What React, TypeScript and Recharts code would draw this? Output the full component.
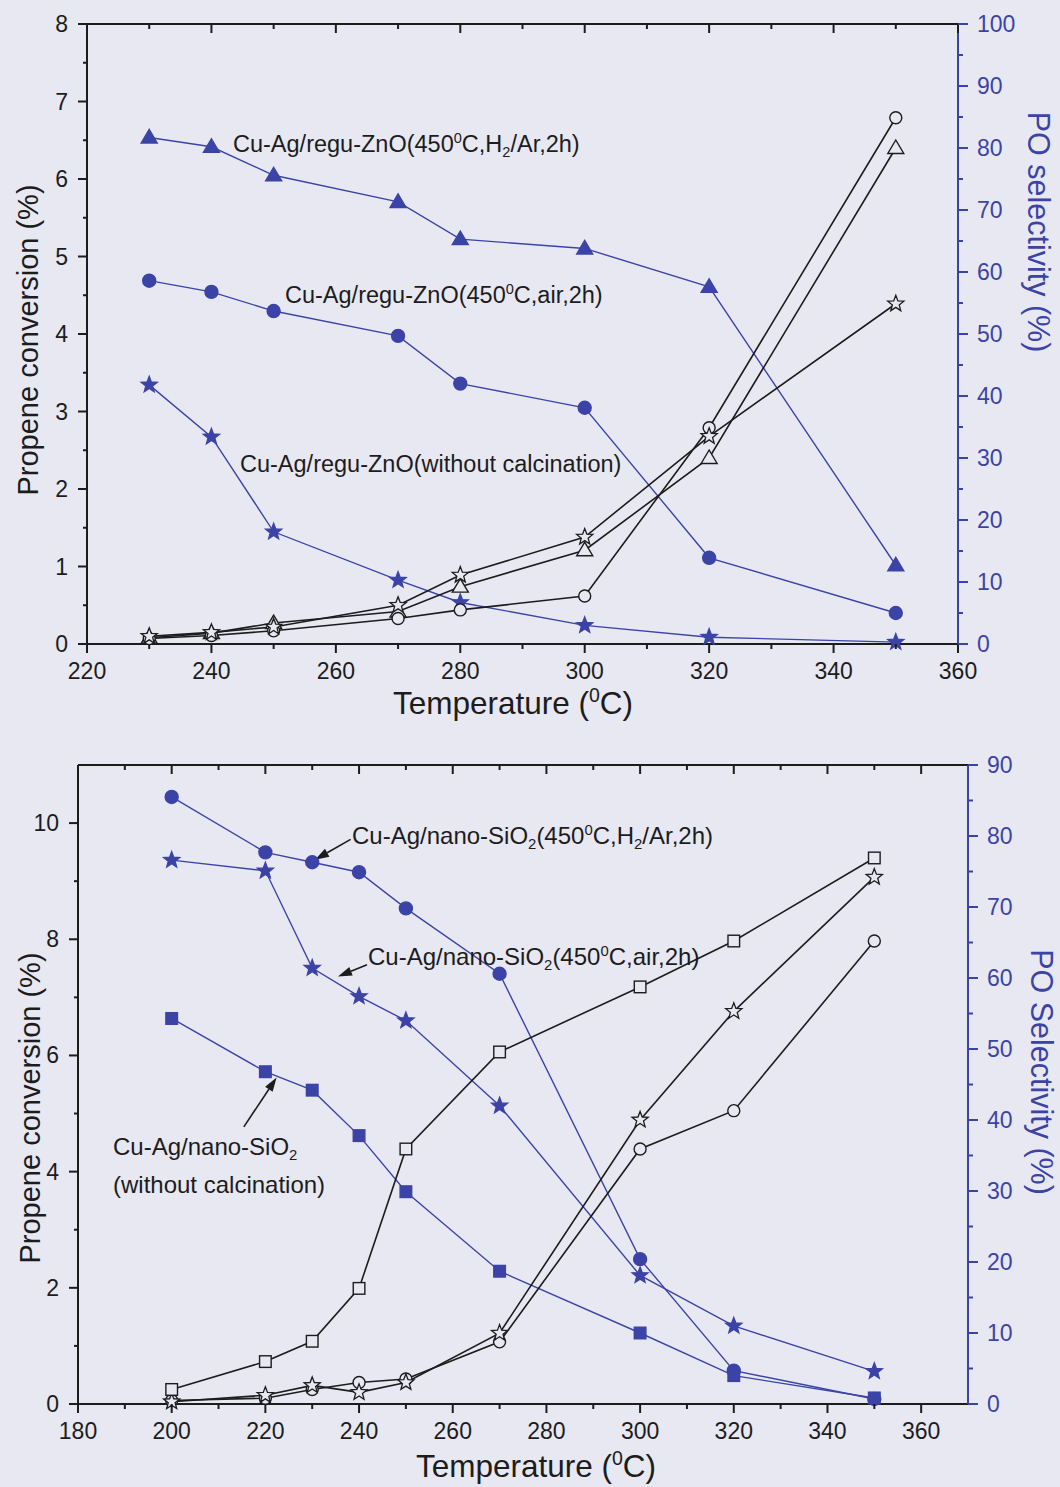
import React from "react";
import { ComposedChart, Line, XAxis, YAxis, ReferenceLine } from "recharts";

const BLUE = "#3b44a6";
const INK = "#1c1c1c";
const BG = "#e8e8f3";
const FONT = '"Liberation Sans", Arial, Helvetica, sans-serif';

// upper panel: Cu-Ag/regu-ZnO
const znoTemps = [230, 240, 250, 270, 280, 300, 320, 350];
const znoSelH2 = [81.7, 80.2, 75.6, 71.3, 65.3, 63.8, 57.6, 12.7];
const znoSelAir = [58.6, 56.8, 53.7, 49.7, 42.0, 38.1, 13.9, 5.0];
const znoSelRaw = [41.8, 33.4, 18.1, 10.3, 6.7, 3.0, 1.1, 0.3];
const znoConvH2 = [0.08, 0.14, 0.27, 0.42, 0.74, 1.21, 2.4, 6.4];
const znoConvAir = [0.07, 0.11, 0.17, 0.33, 0.44, 0.62, 2.79, 6.79];
const znoConvRaw = [0.1, 0.15, 0.22, 0.5, 0.89, 1.38, 2.68, 4.39];

// lower panel: Cu-Ag/nano-SiO2
const sioTemps = [200, 220, 230, 240, 250, 270, 300, 320, 350];
const sioSelH2 = [85.5, 77.7, 76.3, 74.9, 69.8, 60.6, 20.4, 4.7, 0.7];
const sioSelAir = [76.6, 75.1, 61.4, 57.4, 54.0, 42.0, 18.1, 11.0, 4.6];
const sioSelRaw = [54.3, 46.8, 44.2, 37.8, 29.9, 18.7, 10.0, 4.0, 0.85];
const sioConvH2 = [0.06, 0.1, 0.25, 0.37, 0.43, 1.07, 4.39, 5.05, 7.97];
const sioConvAir = [0.04, 0.15, 0.32, 0.2, 0.37, 1.22, 4.89, 6.76, 9.07];
const sioConvRaw = [0.25, 0.73, 1.08, 1.99, 4.39, 6.06, 7.18, 7.97, 9.4];

// tick lists (minor + major)
const znoXTicks = [220, 230, 240, 250, 260, 270, 280, 290, 300, 310, 320, 330, 340, 350, 360];
const znoLeftTicks = [0, 0.5, 1, 1.5, 2, 2.5, 3, 3.5, 4, 4.5, 5, 5.5, 6, 6.5, 7, 7.5, 8];
const znoRightTicks = [0, 5, 10, 15, 20, 25, 30, 35, 40, 45, 50, 55, 60, 65, 70, 75, 80, 85, 90, 95, 100];
const sioXTicks = [180, 190, 200, 210, 220, 230, 240, 250, 260, 270, 280, 290, 300, 310, 320, 330, 340, 350, 360];
const sioLeftTicks = [0, 1, 2, 3, 4, 5, 6, 7, 8, 9, 10];
const sioRightTicks = [0, 5, 10, 15, 20, 25, 30, 35, 40, 45, 50, 55, 60, 65, 70, 75, 80, 85, 90];

// arrow segments for the lower panel labels: [tail, tip] in data units
const arrowH2 = [{ x: 238.2, y: 9.72 }, { x: 230.6, y: 9.37 }];
const arrowAir = [{ x: 241.7, y: 7.56 }, { x: 235.5, y: 7.36 }];
const arrowRaw = [{ x: 215.4, y: 4.77 }, { x: 222.4, y: 5.62 }];

const znoRows = znoTemps.map((t, i) => ({
  t,
  selH2: znoSelH2[i],
  selAir: znoSelAir[i],
  selRaw: znoSelRaw[i],
  convH2: znoConvH2[i],
  convAir: znoConvAir[i],
  convRaw: znoConvRaw[i],
}));

const sioRows = sioTemps.map((t, i) => ({
  t,
  selH2: sioSelH2[i],
  selAir: sioSelAir[i],
  selRaw: sioSelRaw[i],
  convH2: sioConvH2[i],
  convAir: sioConvAir[i],
  convRaw: sioConvRaw[i],
}));

type TickProps = { x?: number; y?: number; payload?: { value: number }; step?: number };

const TICK_FONT = 23;

const BottomTick = ({ x = 0, y = 0, payload, step = 20 }: TickProps) => {
  const v = payload?.value ?? 0;
  const major = v % step === 0;
  return (
    <g>
      <line x1={x} y1={y} x2={x} y2={y + (major ? 9 : 5)} stroke={INK} strokeWidth={2} />
      {major && (
        <text x={x} y={y + 27} textAnchor="middle" dominantBaseline="central" fontSize={TICK_FONT} fill={INK} fontFamily={FONT}>
          {v}
        </text>
      )}
    </g>
  );
};

const TopTick = ({ x = 0, y = 0, payload, step = 20 }: TickProps) => {
  const v = payload?.value ?? 0;
  const major = v % step === 0;
  return <line x1={x} y1={y} x2={x} y2={y + (major ? 9 : 5)} stroke={INK} strokeWidth={2} />;
};

const LeftTick = ({ x = 0, y = 0, payload, step = 1 }: TickProps) => {
  const v = payload?.value ?? 0;
  const major = v % step === 0;
  return (
    <g>
      <line x1={x} y1={y} x2={x - (major ? 9 : 4)} y2={y} stroke={INK} strokeWidth={2} />
      {major && (
        <text x={x - 19} y={y} textAnchor="end" dominantBaseline="central" fontSize={TICK_FONT} fill={INK} fontFamily={FONT}>
          {v}
        </text>
      )}
    </g>
  );
};

const RightTick = ({ x = 0, y = 0, payload, step = 10 }: TickProps) => {
  const v = payload?.value ?? 0;
  const major = v % step === 0;
  return (
    <g>
      <line x1={x} y1={y} x2={x + (major ? 10 : 5)} y2={y} stroke={BLUE} strokeWidth={2} />
      {major && (
        <text x={x + 19} y={y} textAnchor="start" dominantBaseline="central" fontSize={TICK_FONT} fill={BLUE} fontFamily={FONT}>
          {v}
        </text>
      )}
    </g>
  );
};

function starPoints(cx: number, cy: number, R: number, r: number) {
  const pts: string[] = [];
  for (let i = 0; i < 10; i++) {
    const a = -Math.PI / 2 + (i * Math.PI) / 5;
    const rad = i % 2 === 0 ? R : r;
    pts.push(`${cx + rad * Math.cos(a)},${cy + rad * Math.sin(a)}`);
  }
  return pts.join(" ");
}

type Shape = "circle" | "triangle" | "star" | "square";

function marker(shape: Shape, filled: boolean) {
  const fill = filled ? BLUE : BG;
  const stroke = filled ? BLUE : INK;
  return (p: any) => {
    const { cx, cy, index } = p;
    if (cx == null || cy == null) return <g key={index} />;
    if (shape === "circle")
      return <circle key={index} cx={cx} cy={cy} r={filled ? 6.5 : 6} fill={fill} stroke={stroke} strokeWidth={1.4} />;
    if (shape === "square")
      return <rect key={index} x={cx - 5.8} y={cy - 5.8} width={11.6} height={11.6} fill={fill} stroke={stroke} strokeWidth={1.4} />;
    if (shape === "triangle")
      return (
        <polygon
          key={index}
          points={`${cx},${cy - 8} ${cx - 8},${cy + 5.5} ${cx + 8},${cy + 5.5}`}
          fill={fill}
          stroke={stroke}
          strokeWidth={1.4}
        />
      );
    return <polygon key={index} points={starPoints(cx, cy, 8.5, 3.6)} fill={fill} stroke={stroke} strokeWidth={1.3} />;
  };
}

const Arrow = (p: any) => {
  const { x1, y1, x2, y2 } = p;
  const ang = Math.atan2(y2 - y1, x2 - x1);
  const L = 14;
  const W = 4.5;
  const bx = x2 - L * Math.cos(ang);
  const by = y2 - L * Math.sin(ang);
  const nx = -Math.sin(ang) * W;
  const ny = Math.cos(ang) * W;
  return (
    <g>
      <line x1={x1} y1={y1} x2={bx} y2={by} stroke={INK} strokeWidth={1.6} />
      <polygon points={`${x2},${y2} ${bx + nx},${by + ny} ${bx - nx},${by - ny}`} fill={INK} />
    </g>
  );
};

const Sup = ({ children }: { children: React.ReactNode }) => (
  <span style={{ fontSize: "0.62em", position: "relative", top: "-0.62em" }}>{children}</span>
);
const Sub = ({ children }: { children: React.ReactNode }) => (
  <span style={{ fontSize: "0.62em", position: "relative", top: "0.32em" }}>{children}</span>
);

const Note = ({ left, top, size = 23.5, children }: { left: number; top: number; size?: number; children: React.ReactNode }) => (
  <div
    style={{
      position: "absolute",
      left,
      top,
      transform: "translateY(-50%)",
      fontSize: size,
      lineHeight: 1,
      whiteSpace: "nowrap",
      color: INK,
      fontFamily: FONT,
    }}
  >
    {children}
  </div>
);

const Title = ({
  cx,
  cy,
  rotate = 0,
  size = 29,
  color = INK,
  children,
}: {
  cx: number;
  cy: number;
  rotate?: number;
  size?: number;
  color?: string;
  children: React.ReactNode;
}) => (
  <div
    style={{
      position: "absolute",
      left: cx,
      top: cy,
      transform: `translate(-50%, -50%) rotate(${rotate}deg)`,
      fontSize: size,
      lineHeight: 1,
      whiteSpace: "nowrap",
      color,
      fontFamily: FONT,
    }}
  >
    {children}
  </div>
);

const axisLine = { stroke: INK, strokeWidth: 2 };
const blueAxisLine = { stroke: BLUE, strokeWidth: 2 };

export default function App() {
  return (
    <div style={{ position: "absolute", left: 0, top: 0, width: 1060, height: 1487, background: BG, overflow: "hidden" }}>
      {/* upper panel: plot box 87..958 x 24..644 */}
      <div style={{ position: "absolute", left: 0, top: 0 }}>
        <ComposedChart width={1060} height={730} data={znoRows} margin={{ top: 14, right: 62, bottom: 56, left: 47 }}>
          <XAxis
            xAxisId="b"
            dataKey="t"
            type="number"
            domain={[220, 360]}
            ticks={znoXTicks}
            interval={0}
            height={30}
            tickSize={0}
            tickMargin={0}
            axisLine={axisLine}
            tickLine={false}
            tick={<BottomTick step={20} />}
          />
          <XAxis
            xAxisId="t"
            orientation="top"
            dataKey="t"
            type="number"
            domain={[220, 360]}
            ticks={znoXTicks}
            interval={0}
            height={10}
            tickSize={0}
            tickMargin={0}
            axisLine={axisLine}
            tickLine={false}
            tick={<TopTick step={20} />}
          />
          <YAxis
            yAxisId="l"
            type="number"
            domain={[0, 8]}
            ticks={znoLeftTicks}
            interval={0}
            width={40}
            tickSize={0}
            tickMargin={0}
            axisLine={axisLine}
            tickLine={false}
            tick={<LeftTick step={1} />}
          />
          <YAxis
            yAxisId="r"
            orientation="right"
            type="number"
            domain={[0, 100]}
            ticks={znoRightTicks}
            interval={0}
            width={40}
            tickSize={0}
            tickMargin={0}
            axisLine={blueAxisLine}
            tickLine={false}
            tick={<RightTick step={10} />}
          />
          <Line xAxisId="b" yAxisId="r" dataKey="selH2" stroke={BLUE} strokeWidth={1.4} dot={marker("triangle", true)} activeDot={false} isAnimationActive={false} />
          <Line xAxisId="b" yAxisId="r" dataKey="selAir" stroke={BLUE} strokeWidth={1.4} dot={marker("circle", true)} activeDot={false} isAnimationActive={false} />
          <Line xAxisId="b" yAxisId="r" dataKey="selRaw" stroke={BLUE} strokeWidth={1.4} dot={marker("star", true)} activeDot={false} isAnimationActive={false} />
          <Line xAxisId="b" yAxisId="l" dataKey="convH2" stroke={INK} strokeWidth={1.6} dot={marker("triangle", false)} activeDot={false} isAnimationActive={false} />
          <Line xAxisId="b" yAxisId="l" dataKey="convAir" stroke={INK} strokeWidth={1.6} dot={marker("circle", false)} activeDot={false} isAnimationActive={false} />
          <Line xAxisId="b" yAxisId="l" dataKey="convRaw" stroke={INK} strokeWidth={1.6} dot={marker("star", false)} activeDot={false} isAnimationActive={false} />
        </ComposedChart>
      </div>

      {/* lower panel: plot box 78..968 x 765..1404 */}
      <div style={{ position: "absolute", left: 0, top: 730 }}>
        <ComposedChart width={1060} height={757} data={sioRows} margin={{ top: 25, right: 52, bottom: 53, left: 38 }}>
          <XAxis
            xAxisId="b"
            dataKey="t"
            type="number"
            domain={[180, 370]}
            ticks={sioXTicks}
            interval={0}
            height={30}
            tickSize={0}
            tickMargin={0}
            axisLine={axisLine}
            tickLine={false}
            tick={<BottomTick step={20} />}
          />
          <XAxis
            xAxisId="t"
            orientation="top"
            dataKey="t"
            type="number"
            domain={[180, 370]}
            ticks={sioXTicks}
            interval={0}
            height={10}
            tickSize={0}
            tickMargin={0}
            axisLine={axisLine}
            tickLine={false}
            tick={<TopTick step={20} />}
          />
          <YAxis
            yAxisId="l"
            type="number"
            domain={[0, 11]}
            ticks={sioLeftTicks}
            interval={0}
            width={40}
            tickSize={0}
            tickMargin={0}
            axisLine={axisLine}
            tickLine={false}
            tick={<LeftTick step={2} />}
          />
          <YAxis
            yAxisId="r"
            orientation="right"
            type="number"
            domain={[0, 90]}
            ticks={sioRightTicks}
            interval={0}
            width={40}
            tickSize={0}
            tickMargin={0}
            axisLine={blueAxisLine}
            tickLine={false}
            tick={<RightTick step={10} />}
          />
          <Line xAxisId="b" yAxisId="r" dataKey="selH2" stroke={BLUE} strokeWidth={1.4} dot={marker("circle", true)} activeDot={false} isAnimationActive={false} />
          <Line xAxisId="b" yAxisId="r" dataKey="selAir" stroke={BLUE} strokeWidth={1.4} dot={marker("star", true)} activeDot={false} isAnimationActive={false} />
          <Line xAxisId="b" yAxisId="r" dataKey="selRaw" stroke={BLUE} strokeWidth={1.4} dot={marker("square", true)} activeDot={false} isAnimationActive={false} />
          <Line xAxisId="b" yAxisId="l" dataKey="convH2" stroke={INK} strokeWidth={1.6} dot={marker("circle", false)} activeDot={false} isAnimationActive={false} />
          <Line xAxisId="b" yAxisId="l" dataKey="convAir" stroke={INK} strokeWidth={1.6} dot={marker("star", false)} activeDot={false} isAnimationActive={false} />
          <Line xAxisId="b" yAxisId="l" dataKey="convRaw" stroke={INK} strokeWidth={1.6} dot={marker("square", false)} activeDot={false} isAnimationActive={false} />
          <ReferenceLine xAxisId="b" yAxisId="l" segment={arrowH2} shape={Arrow} />
          <ReferenceLine xAxisId="b" yAxisId="l" segment={arrowAir} shape={Arrow} />
          <ReferenceLine xAxisId="b" yAxisId="l" segment={arrowRaw} shape={Arrow} />
        </ComposedChart>
      </div>

      {/* axis titles */}
      <Title cx={28} cy={340} rotate={-90}>Propene conversion (%)</Title>
      <Title cx={1039} cy={232} rotate={90} size={30.5} color={BLUE}>PO selectivity (%)</Title>
      <Title cx={513} cy={704} size={31.5}>
        Temperature (<Sup>0</Sup>C)
      </Title>
      <Title cx={30} cy={1108} rotate={-90}>Propene conversion (%)</Title>
      <Title cx={1042} cy={1072} rotate={90} size={30.5} color={BLUE}>PO Selectivity (%)</Title>
      <Title cx={536} cy={1467} size={31.5}>
        Temperature (<Sup>0</Sup>C)
      </Title>

      {/* series labels */}
      <Note left={233} top={145}>
        Cu-Ag/regu-ZnO(450<Sup>0</Sup>C,H<Sub>2</Sub>/Ar,2h)
      </Note>
      <Note left={285} top={296}>
        Cu-Ag/regu-ZnO(450<Sup>0</Sup>C,air,2h)
      </Note>
      <Note left={240} top={465}>
        Cu-Ag/regu-ZnO(without calcination)
      </Note>
      <Note left={352} top={836} size={24}>
        Cu-Ag/nano-SiO<Sub>2</Sub>(450<Sup>0</Sup>C,H<Sub>2</Sub>/Ar,2h)
      </Note>
      <Note left={368} top={957} size={24}>
        Cu-Ag/nano-SiO<Sub>2</Sub>(450<Sup>0</Sup>C,air,2h)
      </Note>
      <Note left={113} top={1147} size={24}>
        Cu-Ag/nano-SiO<Sub>2</Sub>
      </Note>
      <Note left={113} top={1185} size={24}>
        (without calcination)
      </Note>
    </div>
  );
}
